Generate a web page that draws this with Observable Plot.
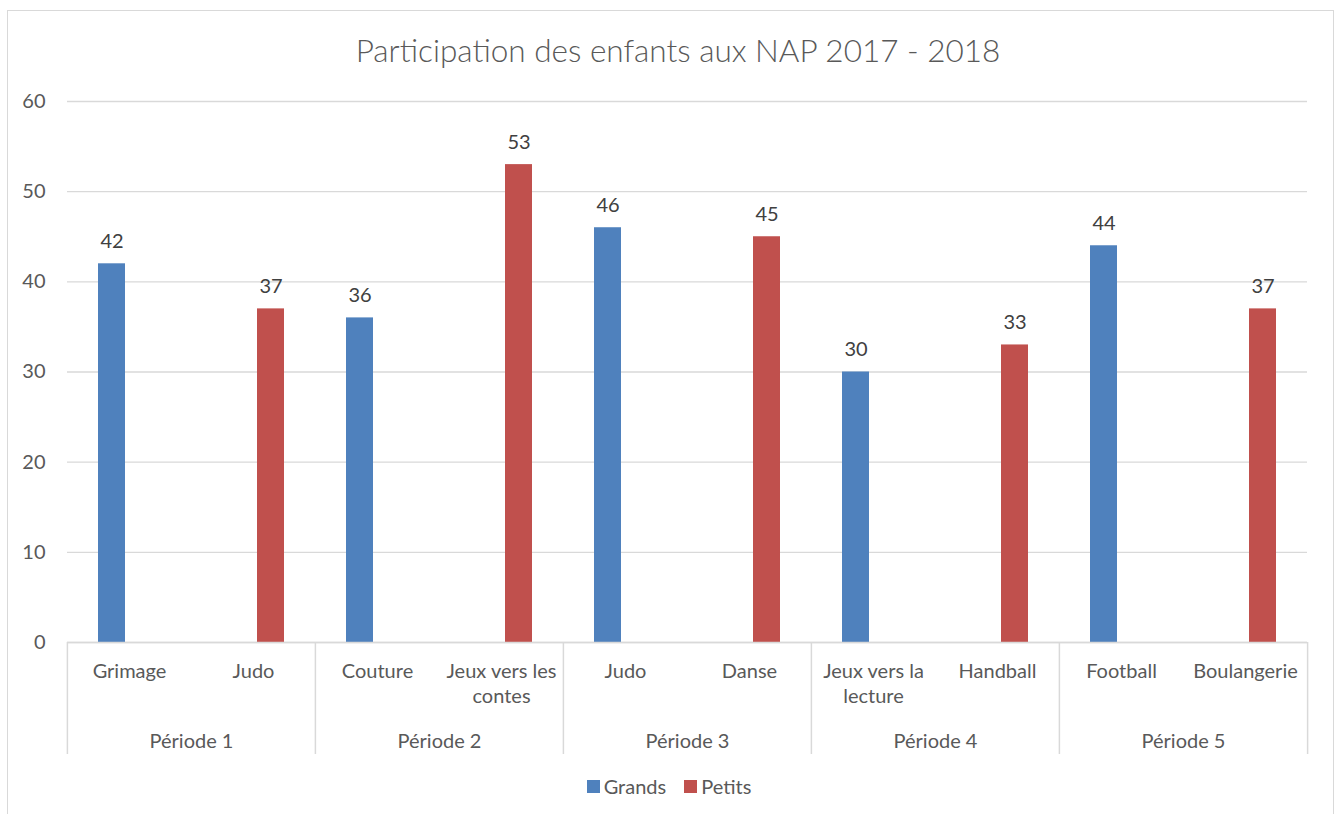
<!DOCTYPE html>
<html>
<head>
<meta charset="utf-8">
<script src="https://cdn.jsdelivr.net/npm/d3@7"></script>
<script src="https://cdn.jsdelivr.net/npm/@observablehq/plot@0.6"></script>
<style>
  body { margin: 0; background: #fff; font-family: Lato, "Open Sans", sans-serif; }
  #frame { position: absolute; left: 7px; top: 10px; width: 1327px; height: 830px; border: 1.5px solid #d9d9d9; box-sizing: border-box; }
  #title { position: absolute; left: 18px; top: 35px; width: 1320px; text-align: center; font-size: 31.5px; line-height: 30px; color: #595959; font-weight: 300; }
  #chart { position: absolute; left: 0; top: 80px; }
  #legend { position: absolute; left: 0; top: 776px; width: 1338px; display: flex; justify-content: center; align-items: center; font-size: 20px; line-height: 20px; color: #595959; }
  #legend .item { display: flex; align-items: center; margin: 0 9px; }
  #legend .sw { width: 13px; height: 13px; margin-right: 4px; }
</style>
</head>
<body>
<div id="frame"></div>
<div id="title">Participation des enfants aux NAP 2017 - 2018</div>
<div id="chart"></div>
<div id="legend"></div>
<script>
// ---- data ----
const periods = ["Période 1", "Période 2", "Période 3", "Période 4", "Période 5"];
const activities = ["Grimage", "Judo", "Couture", "Jeux vers les\ncontes", "Judo", "Danse", "Jeux vers la\nlecture", "Handball", "Football", "Boulangerie"];
const activityPeriod = ["Période 1", "Période 1", "Période 2", "Période 2", "Période 3", "Période 3", "Période 4", "Période 4", "Période 5", "Période 5"];
const activitySeries = ["Grands", "Petits", "Grands", "Petits", "Grands", "Petits", "Grands", "Petits", "Grands", "Petits"];
const values = [42, 37, 36, 53, 46, 45, 30, 33, 44, 37];
const seriesNames = ["Grands", "Petits"];
const seriesColors = ["#4f81bd", "#c0504d"];
const yTicks = [0, 10, 20, 30, 40, 50, 60];

// ---- tables built from the arrays ----
const slots = activities.map((label, i) => ({slot: i, label, period: activityPeriod[i], series: activitySeries[i], value: values[i]}));
const periodRows = periods.map(p => {
  const s = slots.filter(d => d.period === p);
  return {period: p, first: s[0].slot, last: s[s.length - 1].slot};
});

// ---- layout ----
const W = 1338, H = 690, mL = 66, mR = 30, mT = 21, mB = 128;
const facetW = (W - mL - mR) / activities.length;
const plotH = H - mT - mB;
const font = "Lato, 'Open Sans', sans-serif";

const chart = Plot.plot({
  width: W, height: H,
  marginLeft: mL, marginRight: mR, marginTop: mT, marginBottom: mB,
  style: {fontFamily: font, fontSize: "20px", color: "#595959", background: "transparent", overflow: "visible"},
  fx: {domain: d3.range(activities.length), padding: 0, axis: null, label: null},
  x: {domain: seriesNames, paddingInner: 0.218, paddingOuter: 0.838, axis: null, label: null},
  y: {domain: [0, 60], label: null},
  color: {domain: seriesNames, range: seriesColors},
  marks: [
    Plot.gridY(yTicks, {stroke: "#d9d9d9", strokeOpacity: 1, strokeWidth: 1.3}),
    Plot.axisY(yTicks, {tickSize: 0, tickPadding: 22, fill: "#595959", fontSize: 20, label: null}),
    Plot.barY(slots, {fx: "slot", x: "series", y: "value", fill: "series"}),
    Plot.ruleY([0], {stroke: "#d9d9d9", strokeWidth: 1.5}),
    Plot.text(slots, {fx: "slot", x: "series", y: "value", text: d => String(d.value), dy: -22, fill: "#404040", fontSize: 20}),
    Plot.text(slots, {fx: "slot", text: "label", frameAnchor: "bottom", lineAnchor: "top", dy: 17, lineHeight: 1.27, fill: "#595959", fontSize: 20}),
    Plot.text(periodRows, {fx: "first", text: "period", frameAnchor: "bottom-right", textAnchor: "middle", lineAnchor: "top", dy: 91, fill: "#595959", fontSize: 20}),
    Plot.ruleX(periodRows, {fx: "first", x: null, dx: -facetW / 2, insetTop: plotH, insetBottom: -112, stroke: "#d9d9d9", strokeWidth: 1.5}),
    Plot.ruleX(periodRows.slice(-1), {fx: "last", x: null, dx: facetW / 2, insetTop: plotH, insetBottom: -112, stroke: "#d9d9d9", strokeWidth: 1.5})
  ]
});
document.getElementById("chart").appendChild(chart);

// ---- legend ----
const legend = document.getElementById("legend");
seriesNames.forEach((name, i) => {
  const item = document.createElement("div");
  item.className = "item";
  const sw = document.createElement("span");
  sw.className = "sw";
  sw.style.background = seriesColors[i];
  const t = document.createElement("span");
  t.textContent = name;
  item.appendChild(sw);
  item.appendChild(t);
  legend.appendChild(item);
});
</script>
</body>
</html>
